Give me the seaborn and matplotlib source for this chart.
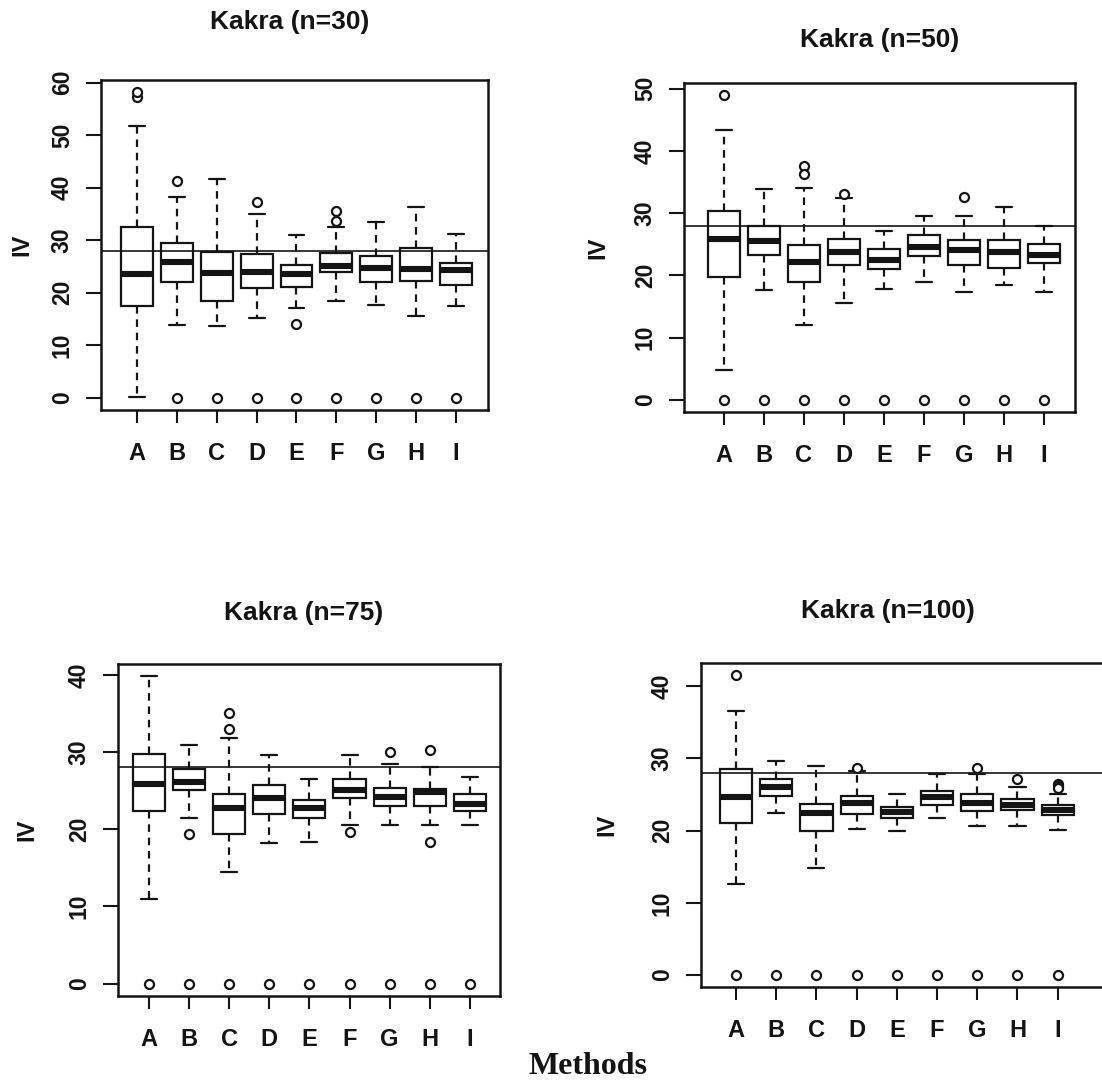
import matplotlib
matplotlib.use("Agg")
import matplotlib.pyplot as plt
import numpy as np
import pandas as pd
import seaborn as sns

# ---------------------------------------------------------------- data
methods = ["A", "B", "C", "D", "E", "F", "G", "H", "I"]
titles = ["Kakra (n=30)", "Kakra (n=50)", "Kakra (n=75)", "Kakra (n=100)"]
true_iv = 28.0

# five-number summaries (lower whisker, Q1, median, Q3, upper whisker) per method
n30_low = [0.2, 13.9, 13.7, 15.1, 17.1, 18.4, 17.6, 15.5, 17.5]
n30_q1 = [17.4, 22.1, 18.5, 20.9, 21.1, 23.9, 22.1, 22.3, 21.5]
n30_med = [23.5, 25.8, 23.7, 24.0, 23.6, 25.1, 24.8, 24.6, 24.3]
n30_q3 = [32.6, 29.5, 27.8, 27.3, 25.2, 27.6, 27.0, 28.6, 25.7]
n30_high = [51.7, 38.3, 41.6, 35.0, 30.9, 32.5, 33.4, 36.3, 31.2]
n30_out_method = ["A", "A", "B", "B", "C", "D", "D", "E", "E", "F", "F", "F", "G", "H", "I"]
n30_out_value = [57.2, 58.2, 41.3, 0.0, 0.0, 37.3, 0.0, 14.1, 0.0, 33.7, 35.6, 0.0, 0.0, 0.0, 0.0]

n50_low = [4.8, 17.6, 12.0, 15.5, 17.8, 19.0, 17.4, 18.4, 17.4]
n50_q1 = [19.7, 23.2, 19.0, 21.7, 21.0, 23.1, 21.6, 21.1, 21.9]
n50_med = [25.9, 25.5, 22.2, 23.7, 22.5, 24.6, 24.0, 23.8, 23.3]
n50_q3 = [30.3, 27.9, 24.9, 25.9, 24.2, 26.4, 25.6, 25.7, 25.1]
n50_high = [43.4, 33.8, 34.1, 32.5, 27.2, 29.5, 29.6, 31.0, 27.9]
n50_out_method = ["A", "A", "B", "C", "C", "C", "D", "D", "E", "F", "G", "G", "H", "I"]
n50_out_value = [48.9, 0.0, 0.0, 37.5, 36.3, 0.0, 33.0, 0.0, 0.0, 0.0, 32.6, 0.0, 0.0, 0.0]

n75_low = [11.0, 21.5, 14.5, 18.2, 18.3, 20.5, 20.6, 20.5, 20.6]
n75_q1 = [22.3, 25.1, 19.4, 22.0, 21.4, 24.0, 23.0, 23.0, 22.4]
n75_med = [25.8, 26.1, 22.7, 24.0, 22.8, 25.1, 24.2, 24.8, 23.3]
n75_q3 = [29.8, 27.8, 24.5, 25.7, 23.8, 26.5, 25.4, 25.2, 24.5]
n75_high = [39.8, 30.9, 31.8, 29.6, 26.5, 29.6, 28.5, 28.1, 26.8]
n75_out_method = ["A", "B", "B", "C", "C", "C", "D", "E", "F", "F", "G", "G", "H", "H", "H", "I"]
n75_out_value = [0.0, 19.4, 0.0, 35.0, 33.0, 0.0, 0.0, 0.0, 19.7, 0.0, 30.0, 0.0, 30.3, 18.3, 0.0, 0.0]

n100_low = [12.6, 22.5, 14.8, 20.2, 19.9, 21.8, 20.7, 20.7, 20.1]
n100_q1 = [21.0, 24.8, 19.9, 22.3, 21.8, 23.6, 22.7, 22.8, 22.1]
n100_med = [24.6, 26.0, 22.4, 23.8, 22.6, 24.6, 23.8, 23.5, 22.9]
n100_q3 = [28.5, 27.1, 23.7, 24.8, 23.3, 25.5, 25.0, 24.4, 23.6]
n100_high = [36.5, 29.7, 29.0, 28.3, 25.0, 27.8, 27.9, 26.0, 25.1]
n100_out_method = ["A", "A", "B", "C", "D", "D", "E", "F", "G", "G", "H", "H", "I", "I", "I", "I"]
n100_out_value = [41.5, 0.0, 0.0, 0.0, 28.6, 0.0, 0.0, 0.0, 28.7, 0.0, 27.1, 0.0, 26.5, 26.2, 25.9, 0.0]

summaries = [
    (n30_low, n30_q1, n30_med, n30_q3, n30_high, n30_out_method, n30_out_value),
    (n50_low, n50_q1, n50_med, n50_q3, n50_high, n50_out_method, n50_out_value),
    (n75_low, n75_q1, n75_med, n75_q3, n75_high, n75_out_method, n75_out_value),
    (n100_low, n100_q1, n100_med, n100_q3, n100_high, n100_out_method, n100_out_value),
]

# ---------------------------------------------------------------- layout
W, H = 1102, 1086
INK = "#141414"
# axes frames in pixels: left, right, top, bottom
frames = [(101, 488, 80, 410), (684, 1075, 83, 412), (118, 500, 664, 996), (701, 1112, 663, 987)]
xlims = [(-0.9, 8.8), (-1.0, 8.78), (-0.77, 8.75), (-0.87, 9.35)]
ylims = [(-2.33, 60.5), (-1.96, 50.9), (-1.6, 41.4), (-1.66, 43.2)]
yticks = [np.arange(0, 61, 10), np.arange(0, 51, 10), np.arange(0, 41, 10), np.arange(0, 41, 10)]
title_pos = [(290, 22), (880, 40), (304, 613), (888, 611)]
ylabel_x = [22, 598, 27, 607]

sns.set_theme(style="ticks")
plt.rcParams["font.family"] = ["Liberation Sans", "DejaVu Sans"]
plt.rcParams["axes.linewidth"] = 1.8

fig = plt.figure(figsize=(W / 100, H / 100), dpi=100)
fig.patch.set_facecolor("white")

for k, (low, q1, med, q3, high, out_m, out_v) in enumerate(summaries):
    x0, x1, y0, y1 = frames[k]
    ax = fig.add_axes([x0 / W, 1 - y1 / H, (x1 - x0) / W, (y1 - y0) / H])

    box_df = pd.DataFrame({
        "method": np.repeat(methods, 5),
        "IV": np.column_stack([low, q1, med, q3, high]).ravel(),
    })
    out_df = pd.DataFrame({"method": out_m, "IV": out_v})

    sns.boxplot(
        data=box_df, x="method", y="IV", order=methods, whis=(0, 100),
        width=0.8, color="white", linecolor=INK, linewidth=1.6,
        showfliers=False, saturation=1,
        medianprops=dict(linewidth=4.4, solid_capstyle="butt"),
        whiskerprops=dict(linestyle=(0, (3.4, 2.6))),
        ax=ax,
    )
    ax.axhline(true_iv, color=INK, linewidth=1.2, zorder=4)
    sns.stripplot(
        data=out_df, x="method", y="IV", order=methods, jitter=False,
        marker="o", color="white", edgecolor=INK, linewidth=1.6, size=6.5,
        ax=ax, zorder=6,
    )

    ax.set_xlim(*xlims[k])
    ax.set_ylim(*ylims[k])
    ax.set_yticks(yticks[k])
    ax.set_xlabel("")
    ax.set_ylabel("")
    for side in ["left", "right", "top", "bottom"]:
        ax.spines[side].set_visible(True)
        ax.spines[side].set_linewidth(1.8)
        ax.spines[side].set_color(INK)
    ax.tick_params(axis="y", length=10.5, width=1.5, pad=9, labelsize=16.5,
                   color=INK, labelcolor=INK)
    ax.tick_params(axis="x", length=9, width=1.5, pad=14, labelsize=17,
                   color=INK, labelcolor=INK)
    for lbl in ax.get_yticklabels():
        lbl.set_rotation(90)
        lbl.set_va("center")
        lbl.set_fontweight("bold")
    for lbl in ax.get_xticklabels():
        lbl.set_fontweight("bold")

    tx, ty = title_pos[k]
    fig.text(tx / W, 1 - ty / H, titles[k], ha="center", va="center",
             fontsize=19, fontweight="bold", color=INK)
    fig.text(ylabel_x[k] / W, 1 - ((y0 + y1) / 2) / H, "IV", rotation=90,
             ha="center", va="center", fontsize=17, fontweight="bold", color=INK)

fig.text(588 / W, 1 - 1066 / H, "Methods", ha="center", va="center",
         fontsize=23, fontweight="bold", color=INK,
         family=["Liberation Serif", "DejaVu Serif"])

fig.savefig("out.png", dpi=100, facecolor="white")
